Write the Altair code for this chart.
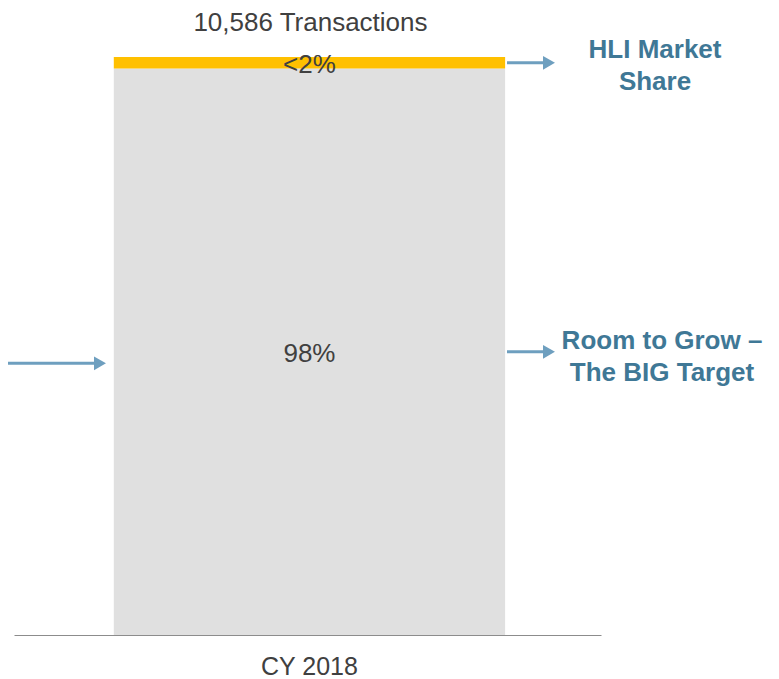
import altair as alt
import pandas as pd

# ---- data ----
categories = ["CY 2018", "CY 2018"]
segments = ["Room to Grow", "HLI Market Share"]
shares = [98, 2]
share_labels = ["98%", "<2%"]
seg_order = [0, 1]
total_label = "10,586 Transactions"
callouts = ["Room to Grow –\nThe BIG Target", "HLI Market\nShare"]

df = pd.DataFrame({
    "cat": categories,
    "segment": segments,
    "share": shares,
    "label": share_labels,
    "order": seg_order,
    "callout": callouts,
})

FONT = "Liberation Sans"
GRAY_TXT = "#404040"
ARROW = "#6E9FBF"
BLUE_TXT = "#3F7896"

x_enc = alt.X("cat:N", title=None,
              scale=alt.Scale(paddingInner=0, paddingOuter=0.25, align=0.51),
              axis=alt.Axis(labelAngle=0, ticks=False, domainColor="#8C8C8C",
                            domainWidth=1, labelFontSize=25, labelColor=GRAY_TXT,
                            labelFont=FONT, labelPadding=19))
y_scale = alt.Scale(domain=[0, 100])

base = alt.Chart(df).transform_stack(
    stack="share", groupby=["cat"], as_=["y0", "y1"],
    sort=[alt.SortField("order", order="ascending")]
).transform_calculate(mid="(datum.y0 + datum.y1) / 2")

bars = base.mark_bar().encode(
    x=x_enc,
    y=alt.Y("y0:Q", scale=y_scale, axis=None),
    y2="y1:Q",
    color=alt.Color("segment:N", legend=None,
                    scale=alt.Scale(domain=["Room to Grow", "HLI Market Share"],
                                    range=["#E0E0E0", "#FFC000"])),
)

seg_text = base.mark_text(fontSize=26, font=FONT, color=GRAY_TXT, dy=2).encode(
    x=alt.X("cat:N"),
    y=alt.Y("mid:Q", scale=y_scale),
    text="label:N",
)

total_df = pd.DataFrame({"cat": [categories[0]], "t": [total_label], "top": [sum(shares)]})
total_text = alt.Chart(total_df).mark_text(
    fontSize=26, font=FONT, color=GRAY_TXT, dy=-34, dx=1
).encode(x=alt.X("cat:N"), y=alt.Y("top:Q", scale=y_scale), text="t:N")

# callout arrows on the right
arrow_lines = base.mark_rule(color=ARROW, strokeWidth=3).encode(
    x=alt.value(493), x2=alt.value(530), y=alt.Y("mid:Q", scale=y_scale)
)
arrow_heads = base.mark_point(shape="triangle-right", filled=True, color=ARROW,
                              size=190, opacity=1).encode(
    x=alt.value(535), y=alt.Y("mid:Q", scale=y_scale)
)
callout_hli = base.transform_filter(alt.datum.segment == "HLI Market Share").mark_text(
    fontSize=26, font=FONT, fontWeight="bold", color=BLUE_TXT, lineBreak="\n",
    lineHeight=32, align="center", dy=-13).encode(
    x=alt.value(641), y=alt.Y("mid:Q", scale=y_scale), text="callout:N"
)
callout_room = base.transform_filter(alt.datum.segment == "Room to Grow").mark_text(
    fontSize=26, font=FONT, fontWeight="bold", color=BLUE_TXT, lineBreak="\n",
    lineHeight=32, align="center", dy=-11).encode(
    x=alt.value(648), y=alt.Y("mid:Q", scale=y_scale), text="callout:N"
)

# left arrow
left_df = pd.DataFrame({"pos": [47]})
left_line = alt.Chart(left_df).mark_rule(color=ARROW, strokeWidth=3).encode(
    x=alt.value(-14), x2=alt.value(82), y=alt.Y("pos:Q", scale=y_scale)
)
left_head = alt.Chart(left_df).mark_point(shape="triangle-right", filled=True,
                                          color=ARROW, size=190, opacity=1).encode(
    x=alt.value(86), y=alt.Y("pos:Q", scale=y_scale)
)

chart = alt.layer(bars, seg_text, total_text, arrow_lines, arrow_heads,
                  callout_hli, callout_room, left_line, left_head).properties(
    width=587, height=578,
    autosize=alt.AutoSizeParams(type="none"),
    padding={"left": 6, "top": 49, "right": 170, "bottom": 46},
    background="white",
).configure_view(strokeWidth=0)

chart.save("out.html", embed_options={"renderer": "svg", "actions": False})
